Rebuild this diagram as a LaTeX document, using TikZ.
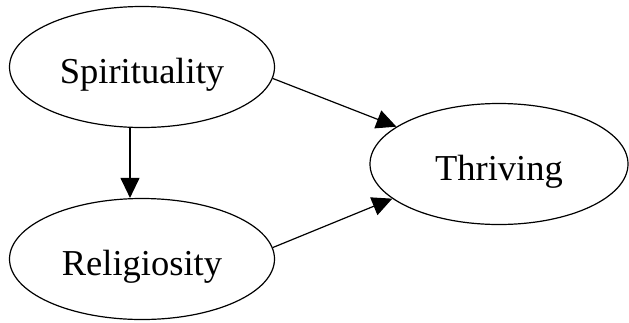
\documentclass[tikz,border=0pt]{standalone}
\usepackage{fontspec}
\setmainfont{Liberation Serif}
\usetikzlibrary{arrows.meta, shapes.geometric}

\tikzset{
    var/.style={
        draw,
        ellipse,
        line width=1.2pt,
        inner sep=0pt,
        minimum width=265pt,
        minimum height=121pt,
        text height=33pt,
        text depth=0pt,
        font=\fontsize{36.5}{42}\selectfont
    },
    link/.style={
        line width=1.2pt,
        -{Triangle[length=20pt,width=19pt]}
    }
}

\begin{document}
\begin{tikzpicture}[x=1pt, y=-1pt]
        \useasboundingbox (0, 0) rectangle (629, 322);
        
        \node[var] (spirit) at (142, 67) {Spirituality};
        
        \node[var] (relig) at (142, 259) {Religiosity};
        
        \node[var, minimum width=258pt] (thrive) at (499, 164) {Thriving};
        
        \draw[link] ([xshift=-12pt]spirit.south) -- ([xshift=-12pt]relig.north);
        
        \draw[link] (spirit.-5) -- (thrive.160.8);
        
        \draw[link] (relig.5) -- (thrive.198.8);
    \end{tikzpicture}
\end{document}
